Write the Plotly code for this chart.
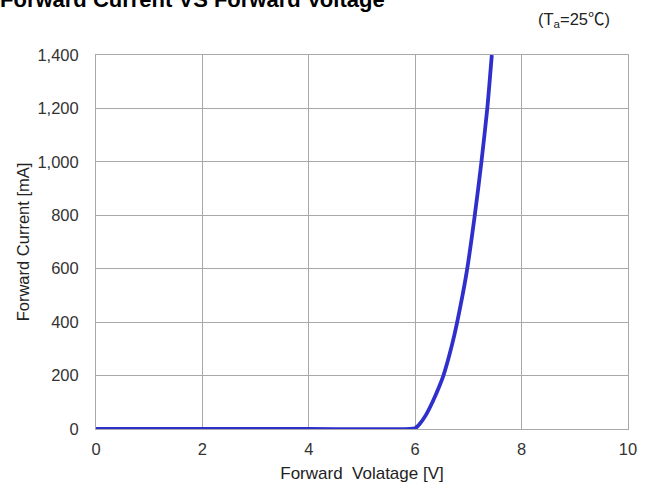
import plotly.graph_objects as go

voltage = [0, 2, 4, 5.9, 6.0, 6.08, 6.2, 6.33, 6.45, 6.53, 6.64, 6.74, 6.86, 6.97, 7.12, 7.245, 7.355, 7.44]
current = [0, 0, 0, 0, 3, 18, 52, 103, 158, 200, 275, 355, 470, 590, 800, 1000, 1200, 1400]

title_text = "Forward Current VS Forward Voltage"
temp_text = "(T<sub>a</sub>=25<span style=\"font-family:'Noto Sans CJK KR'\">℃</span>)"
x_title = "Forward\u00a0 Volatage [V]"
y_title = "Forward Current [mA]"

fig = go.Figure()
fig.add_trace(go.Scatter(
    x=voltage, y=current, mode="lines",
    line=dict(color="#2f2fcc", width=3.8, shape="spline", smoothing=0.6),
    hoverinfo="skip", showlegend=False,
))

font_family = "Liberation Sans, Noto Sans CJK KR, sans-serif"
grid_col = "#a8a8a8"

fig.update_layout(
    width=652, height=484,
    margin=dict(l=96, r=24, t=55, b=55, autoexpand=False),
    paper_bgcolor="white", plot_bgcolor="white",
    font=dict(family=font_family, size=16.5, color="#333333"),
    xaxis=dict(
        range=[0, 10], tickvals=[0, 2, 4, 6, 8, 10],
        showgrid=True, gridcolor=grid_col, gridwidth=1,
        showline=True, linecolor=grid_col, linewidth=1, mirror=True,
        zeroline=False, ticks="", ticklabelstandoff=5,
        title=dict(text=x_title, standoff=10, font=dict(size=17, color="#222222")),
    ),
    yaxis=dict(
        range=[0, 1400], tickvals=[0, 200, 400, 600, 800, 1000, 1200, 1400],
        tickformat=",d",
        showgrid=True, gridcolor=grid_col, gridwidth=1,
        showline=True, linecolor=grid_col, linewidth=1, mirror=True,
        zeroline=False, ticks="", ticklabelstandoff=13,
        title=dict(text=y_title, standoff=3, font=dict(size=16.5, color="#222222")),
    ),
    annotations=[
        dict(text="<b>" + title_text + "</b>", xref="paper", yref="paper",
             x=-0.185, y=1.1097, xanchor="left", yanchor="bottom", showarrow=False,
             font=dict(size=22, color="black", family=font_family)),
        dict(text=temp_text, xref="paper", yref="paper",
             x=0.8994, y=1.099, xanchor="center", yanchor="middle", showarrow=False,
             font=dict(size=16.5, color="#222222", family=font_family)),
    ],
)

fig.write_html("out.html", config={"displayModeBar": False},
               post_script="document.body.style.margin='0';")
